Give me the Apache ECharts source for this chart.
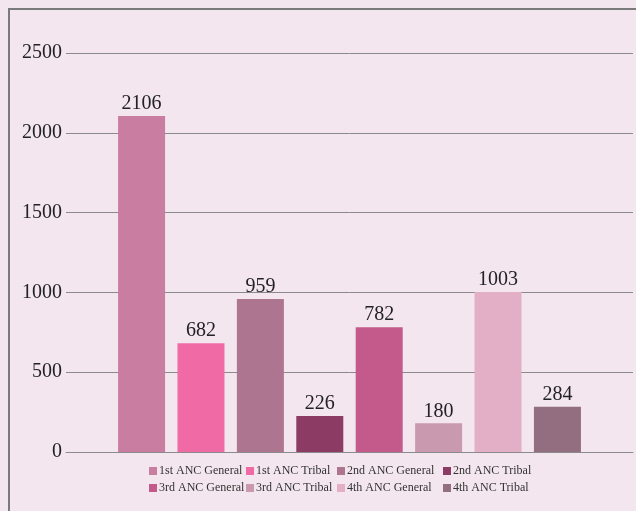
<!DOCTYPE html>
<html>
<head>
<meta charset="utf-8">
<script src="https://cdn.jsdelivr.net/npm/echarts@6/dist/echarts.min.js"></script>
<style>
  html, body { margin: 0; padding: 0; background: #F3E6EE; }
  #chart { width: 636px; height: 511px; }
</style>
</head>
<body>
<div id="chart"></div>
<script>
// ANC visit counts by visit number and population group
const seriesNames = ['1st ANC General', '1st ANC Tribal', '2nd ANC General', '2nd ANC Tribal',
                     '3rd ANC General', '3rd ANC Tribal', '4th ANC General', '4th ANC Tribal'];
const seriesValues = [2106, 682, 959, 226, 782, 180, 1003, 284];
const seriesColors = ['#C97DA1', '#F06BA6', '#AE7591', '#8C3C64',
                      '#C45A8B', '#C99AAF', '#E3AFC7', '#936D80'];
const yTicks = { min: 0, max: 2500, step: 500 };

const serif = '"Liberation Serif", "Times New Roman", serif';

const series = seriesNames.map((name, i) => ({
  name: name,
  type: 'bar',
  data: [seriesValues[i]],
  barWidth: 47,
  barGap: '26.4%',
  itemStyle: { color: seriesColors[i] },
  label: {
    show: true,
    position: 'top',
    distance: 2,
    fontFamily: serif,
    fontSize: 20,
    color: '#222'
  }
}));

// legend laid out in four columns of two rows each
const legendCols = [149, 246, 337, 443];
const legends = legendCols.map((x, c) => ({
  orient: 'vertical',
  left: x,
  top: 465,
  itemWidth: 8,
  itemHeight: 8,
  itemGap: 5,
  padding: 0,
  icon: 'rect',
  selectedMode: false,
  textStyle: { fontFamily: serif, fontSize: 12, color: '#333', padding: [0, 0, 0, -3] },
  data: [seriesNames[c], seriesNames[c + 4]]
}));

const chart = echarts.init(document.getElementById('chart'));
chart.setOption({
  backgroundColor: '#F3E6EE',
  animation: false,
  graphic: [{
    type: 'rect',
    shape: { x: 9, y: 9, width: 700, height: 600 },
    style: { fill: 'none', stroke: '#7A7A7A', lineWidth: 2 },
    silent: true
  }],
  grid: { left: 66, right: 3, top: 53, bottom: 59 },
  legend: legends,
  xAxis: {
    type: 'category',
    data: [''],
    axisLine: { lineStyle: { color: '#8A8A8A', width: 1 } },
    axisTick: { show: false },
    axisLabel: { show: false }
  },
  yAxis: {
    type: 'value',
    min: yTicks.min,
    max: yTicks.max,
    interval: yTicks.step,
    axisLine: { show: false },
    axisTick: { show: false },
    axisLabel: {
      fontFamily: serif, fontSize: 20, color: '#222', margin: 4,
      formatter: v => String(v)
    },
    splitLine: { lineStyle: { color: '#8A8A8A', width: 1 } }
  },
  series: series
});
</script>
</body>
</html>
